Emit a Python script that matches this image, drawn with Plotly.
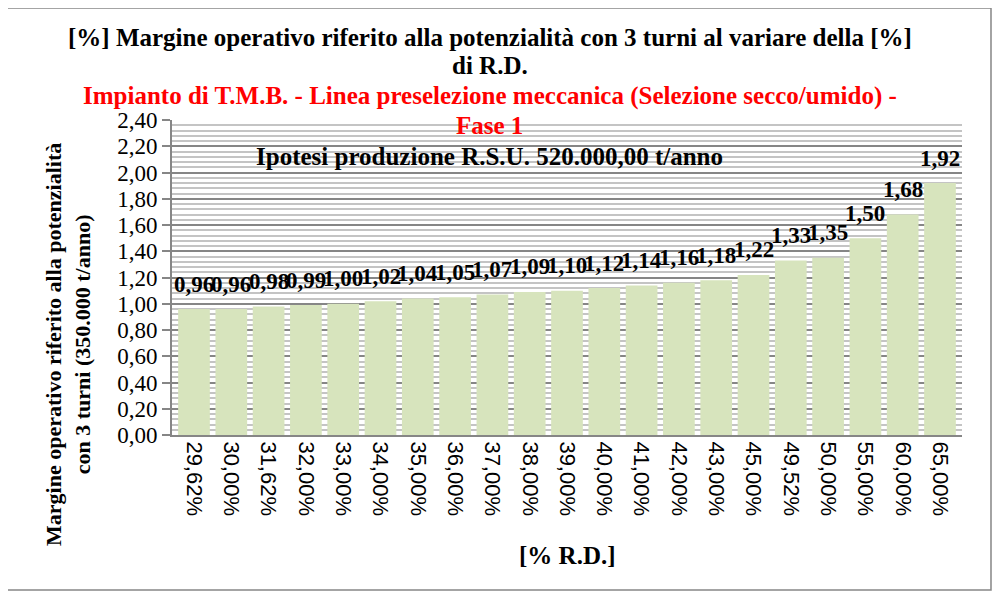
import plotly.graph_objects as go

# [% R.D.] categories and margin values
categorie = ["29,62%", "30,00%", "31,62%", "32,00%", "33,00%", "34,00%", "35,00%",
             "36,00%", "37,00%", "38,00%", "39,00%", "40,00%", "41,00%", "42,00%",
             "43,00%", "45,00%", "49,52%", "50,00%", "55,00%", "60,00%", "65,00%"]
margine = [0.96, 0.96, 0.98, 0.99, 1.00, 1.02, 1.04, 1.05, 1.07, 1.09, 1.10,
           1.12, 1.14, 1.16, 1.18, 1.22, 1.33, 1.35, 1.50, 1.68, 1.92]

titolo_1 = "[%] Margine operativo riferito alla potenzialità con 3 turni al variare della [%]"
titolo_2 = "di R.D."
sottotitolo_1 = "Impianto di T.M.B. - Linea preselezione meccanica (Selezione secco/umido) -"
sottotitolo_2 = "Fase 1"
ipotesi = "Ipotesi produzione R.S.U. 520.000,00 t/anno"
titolo_y = "Margine operativo riferito alla potenzialità<br>con 3 turni (350.000 t/anno)"
titolo_x = "[% R.D.]"

SERIF = "'Liberation Serif', 'Times New Roman', serif"
GRAY = "#868686"

fig = go.Figure(
    data=[go.Bar(
        x=categorie,
        y=margine,
        marker=dict(color="#D7E4BD", line=dict(width=0)),
        hoverinfo="x+y",
    )]
)

# data labels sit well above the bar tops, as in the original
annotations = []
for cat, val in zip(categorie, margine):
    annotations.append(dict(
        x=cat, y=val, xref="x", yref="y",
        text="<b>" + ("%.2f" % val).replace(".", ",") + "</b>",
        showarrow=False, yanchor="middle", yshift=25,
        font=dict(family=SERIF, size=23, color="black"),
    ))

def paper_text(text, x, y, size, color="black", angle=0):
    return dict(
        x=x, y=y, xref="paper", yref="paper",
        text="<b>" + text + "</b>", showarrow=False,
        xanchor="center", yanchor="middle", textangle=angle,
        font=dict(family=SERIF, size=size, color=color),
    )

annotations += [
    paper_text(titolo_1, 0.402, 1.261, 25),
    paper_text(titolo_2, 0.402, 1.173, 25),
    paper_text(sottotitolo_1, 0.402, 1.076, 25, color="#FF0000"),
    paper_text(sottotitolo_2, 0.402, 0.981, 25, color="#FF0000"),
    paper_text(ipotesi, 0.402, 0.883, 25),
    paper_text(titolo_x, 0.5, -0.381, 25),
    paper_text(titolo_y, -0.1316, 0.286, 22, angle=-90),
]

# page body adds an 8 px offset, so the figure is a bit smaller than the window
fig.update_layout(
    width=993,
    height=585,
    margin=dict(l=164, r=39, t=112, b=158),
    paper_bgcolor="white",
    plot_bgcolor="white",
    separators=",.",
    showlegend=False,
    bargap=0.15,
    annotations=annotations,
    shapes=[dict(
        type="rect", xref="paper", yref="paper",
        x0=-0.2114, x1=1.0367, y0=-0.492, y1=1.3556,
        line=dict(color=GRAY, width=1.5), fillcolor="rgba(0,0,0,0)",
    )],
)

fig.update_yaxes(
    range=[0, 2.4],
    dtick=0.2,
    tickformat=".2f",
    ticks="outside", ticklen=8, tickwidth=2, tickcolor=GRAY,
    showline=True, linecolor=GRAY, linewidth=2,
    showgrid=True, gridcolor=GRAY, gridwidth=2,
    minor=dict(dtick=0.04, showgrid=True, gridcolor="#C4C4C4", gridwidth=1.5),
    zeroline=False,
    tickfont=dict(family=SERIF, size=23, color="black"),
)

fig.update_xaxes(
    type="category",
    tickangle=90,
    showline=True, linecolor=GRAY, linewidth=2,
    ticks="",
    tickfont=dict(family="'Liberation Sans', Arial, sans-serif", size=22, color="black"),
)

fig.write_html("out.html")
